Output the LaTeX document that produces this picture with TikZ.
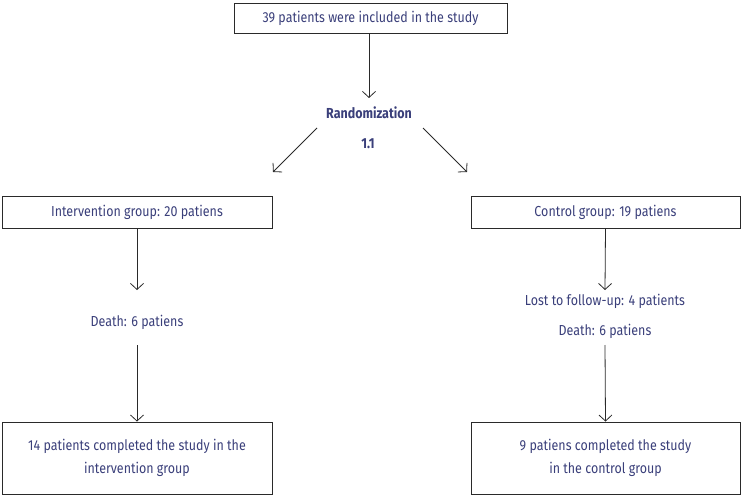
\documentclass[tikz,border=0pt]{standalone}
\usepackage{fontspec}
\setmainfont{Fira Sans}[FakeStretch=0.86]
\usetikzlibrary{arrows.meta}
\definecolor{txt}{HTML}{3A3F7A}
\definecolor{ln}{HTML}{2A2A2A}
\begin{document}
\begin{tikzpicture}[x=1pt,y=-1pt,
  box/.style={draw=ln,line width=0.9pt,inner sep=0pt,text=txt,font=\fontsize{14.5}{23}\selectfont,align=center},
  lbl/.style={text=txt,font=\fontsize{14.5}{17}\selectfont,inner sep=0pt},
  arr/.style={draw=ln,line width=0.8pt,-{Straight Barb[length=6pt,width=13pt]}}]
\useasboundingbox (0,0) rectangle (742,495);
\node[box,minimum width=273pt,minimum height=30pt] (top) at (370.5,18) {39 patients were included in the study};
\node[lbl,font=\bfseries\fontsize{14.5}{17}\selectfont] (rand) at (369,113) {Randomization};
\node[lbl,font=\bfseries\fontsize{14.5}{17}\selectfont] (ratio) at (368,144) {1.1};
\node[box,minimum width=270pt,minimum height=32pt] (int) at (137,212) {Intervention group: 20 patiens};
\node[box,minimum width=269pt,minimum height=32pt] (ctl) at (605.5,212) {Control group: 19 patiens};
\node[lbl] (dint) at (137,322) {Death: 6 patiens};
\node[lbl] (lost) at (605,301) {Lost to follow-up: 4 patients};
\node[lbl] (dctl) at (605,331) {Death: 6 patiens};
\node[box,minimum width=270pt,minimum height=72pt] (fint) at (137,458) {14 patients completed the study in the\\intervention group};
\node[box,minimum width=269pt,minimum height=72pt] (fctl) at (605.5,458) {9 patiens completed the study\\in the control group};
\coordinate (rl) at (317,128);
\coordinate (rr) at (423,128);
\coordinate (tl) at (273,172);
\coordinate (tr) at (467,172);
\draw[arr] (top.south -| 369,0) -- (369,98);
\draw[arr] (rl) -- (tl);
\draw[arr] (rr) -- (tr);
\draw[arr] (int.south) -- (137,290);
\draw[arr] (137,345) -- (fint.north);
\draw[arr] (ctl.south) -- (605,290);
\draw[arr] (605,345) -- (fctl.north);
\end{tikzpicture}
\end{document}
